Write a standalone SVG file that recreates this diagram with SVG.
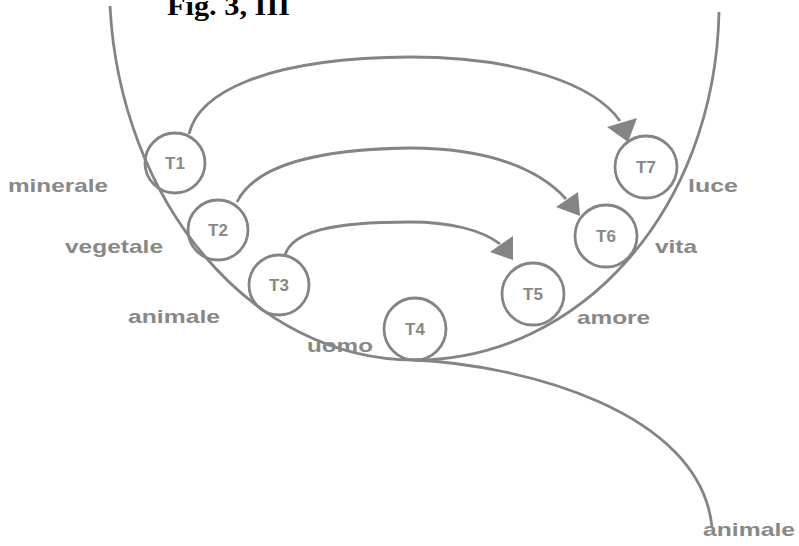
<svg xmlns="http://www.w3.org/2000/svg" width="799" height="546" viewBox="0 0 799 546">
<style>
.ln{fill:none;stroke:#848484;stroke-width:2.8}
.nd{fill:none;stroke:#848484;stroke-width:2.8}
.tl{font-family:"Liberation Sans",Arial,sans-serif;font-weight:bold;font-size:17px;fill:#888;text-anchor:middle}
.lb{font-family:"Liberation Sans",Arial,sans-serif;font-weight:bold;font-size:19px;fill:#888}
.tt{font-family:"Liberation Serif","Times New Roman",serif;font-weight:bold;font-size:27px;fill:#000}
</style>
<rect width="799" height="546" fill="#fff"/>
<text class="tt" x="167" y="15" textLength="123" lengthAdjust="spacingAndGlyphs">Fig. 3, III</text>
<g id="connectors">
<path id="cup" class="ln" d="M110,6 C120,200 250,360 415,360 C580,360 715,210 719,12"/>
<path id="tail" class="ln" d="M415,360 C520,365 700,410 712,527"/>
<path id="a1" class="ln" d="M189,134 C198,95 260,58 410,57 C520,57 595,85 620,121"/>
<path id="a2" class="ln" d="M237,202 C255,165 320,149 410,148 C490,148 540,170 566,199"/>
<path id="a3" class="ln" d="M285,255 C292,232 330,222 410,222 C450,222 482,230 500,244"/>
<polygon points="607,127 637,118 628,142" fill="#848484"/>
<polygon points="556,207 578,192 580,216" fill="#848484"/>
<polygon points="490,252 513,236 513,260" fill="#848484"/>
</g>
<g id="T1"><circle class="nd" cx="175" cy="163" r="30"/><text class="tl" x="175" y="169">T1</text></g>
<g id="T2"><circle class="nd" cx="218" cy="230" r="30"/><text class="tl" x="218" y="236">T2</text></g>
<g id="T3"><circle class="nd" cx="279" cy="285" r="30"/><text class="tl" x="279" y="291">T3</text></g>
<g id="T4"><circle class="nd" cx="415" cy="329" r="31"/><text class="tl" x="415" y="335">T4</text></g>
<g id="T5"><circle class="nd" cx="533" cy="294" r="31"/><text class="tl" x="533" y="300">T5</text></g>
<g id="T6"><circle class="nd" cx="606" cy="236" r="31"/><text class="tl" x="606" y="242">T6</text></g>
<g id="T7"><circle class="nd" cx="646" cy="167" r="31"/><text class="tl" x="646" y="173">T7</text></g>
<g id="labels">
<text class="lb" x="8" y="192" textLength="100" lengthAdjust="spacingAndGlyphs">minerale</text>
<text class="lb" x="65" y="253" textLength="98" lengthAdjust="spacingAndGlyphs">vegetale</text>
<text class="lb" x="128" y="323" textLength="92" lengthAdjust="spacingAndGlyphs">animale</text>
<text class="lb" x="307" y="352" textLength="66" lengthAdjust="spacingAndGlyphs">uomo</text>
<text class="lb" x="577" y="324" textLength="73" lengthAdjust="spacingAndGlyphs">amore</text>
<text class="lb" x="655" y="253" textLength="42" lengthAdjust="spacingAndGlyphs">vita</text>
<text class="lb" x="688" y="192" textLength="50" lengthAdjust="spacingAndGlyphs">luce</text>
<text class="lb" x="703" y="536" textLength="92" lengthAdjust="spacingAndGlyphs">animale</text>
</g>
</svg>
